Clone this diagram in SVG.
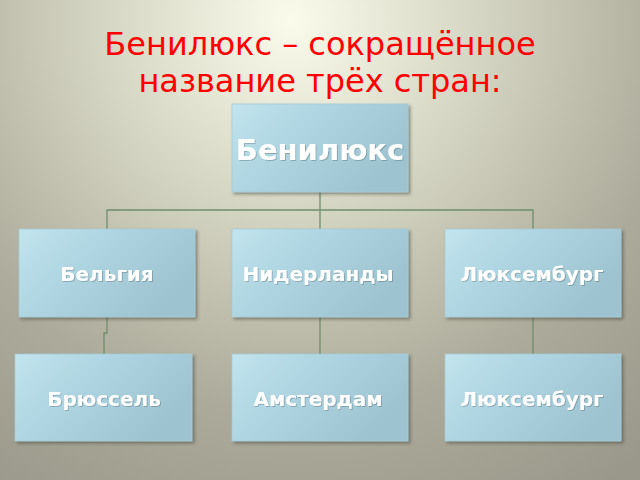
<svg xmlns="http://www.w3.org/2000/svg" width="640" height="480" viewBox="0 0 640 480">
<defs>
<radialGradient id="bg" cx="290" cy="20" r="560" gradientUnits="userSpaceOnUse">
<stop offset="0" stop-color="#fbfbec"/>
<stop offset="0.35" stop-color="#d4d4c2"/>
<stop offset="0.7" stop-color="#acaa9a"/>
<stop offset="1" stop-color="#9a988a"/>
</radialGradient>
<linearGradient id="box" x1="0" y1="0" x2="1" y2="0.5">
<stop offset="0" stop-color="#c2e4ee"/>
<stop offset="0.4" stop-color="#afd6e2"/>
<stop offset="1" stop-color="#9cc3cf"/>
</linearGradient>
<filter id="sh" x="-10%" y="-10%" width="130%" height="130%">
<feDropShadow dx="2" dy="2" stdDeviation="1.5" flood-color="#3a3a30" flood-opacity="0.5"/>
</filter>
<filter id="tsh" x="-10%" y="-20%" width="120%" height="150%">
<feDropShadow dx="1" dy="1" stdDeviation="0.6" flood-color="#000" flood-opacity="0.2"/>
</filter>
</defs>
<style>
.box{fill:url(#box);stroke:#a9cbd5;stroke-width:0.8;filter:url(#sh)}
.lbl{font-family:"DejaVu Sans","Verdana",sans-serif;font-weight:bold;fill:#fff;text-anchor:middle;filter:url(#tsh)}
.big{font-size:29px}
.sm{font-size:20px}
.con{fill:none;stroke:#6e8e6e;stroke-width:1.3}
.title{font-family:"DejaVu Sans",sans-serif;font-size:32px;fill:#f00;text-anchor:middle}
</style>
<rect width="640" height="480" fill="url(#bg)"/>
<g id="title">
<text class="title" x="320" y="55">Бенилюкс – сокращённое</text>
<text class="title" x="320" y="92">название трёх стран:</text>
</g>
<g id="connectors">
<path class="con" d="M320,192 V210 M107,229 V210 H533 V229 M320,210 V229"/>
<path class="con" d="M107,317 V333 H104 V354"/>
<path class="con" d="M320,317 V354"/>
<path class="con" d="M533,317 V354"/>
</g>
<g id="benelux">
<rect class="box" x="232" y="104" width="176" height="88"/>
<text class="lbl big" x="320" y="160">Бенилюкс</text>
</g>
<g id="belgium">
<rect class="box" x="19" y="229" width="176" height="88"/>
<text class="lbl sm" x="107" y="281">Бельгия</text>
</g>
<g id="netherlands">
<rect class="box" x="232" y="229" width="176" height="88"/>
<text class="lbl sm" x="318" y="281">Нидерланды</text>
</g>
<g id="luxembourg">
<rect class="box" x="445" y="229" width="176" height="88"/>
<text class="lbl sm" x="532" y="281">Люксембург</text>
</g>
<g id="brussels">
<rect class="box" x="15" y="354" width="177" height="87"/>
<text class="lbl sm" x="104" y="406">Брюссель</text>
</g>
<g id="amsterdam">
<rect class="box" x="232" y="354" width="176" height="87"/>
<text class="lbl sm" x="318" y="406">Амстердам</text>
</g>
<g id="luxembourg-city">
<rect class="box" x="445" y="354" width="176" height="87"/>
<text class="lbl sm" x="532" y="406">Люксембург</text>
</g>
</svg>
